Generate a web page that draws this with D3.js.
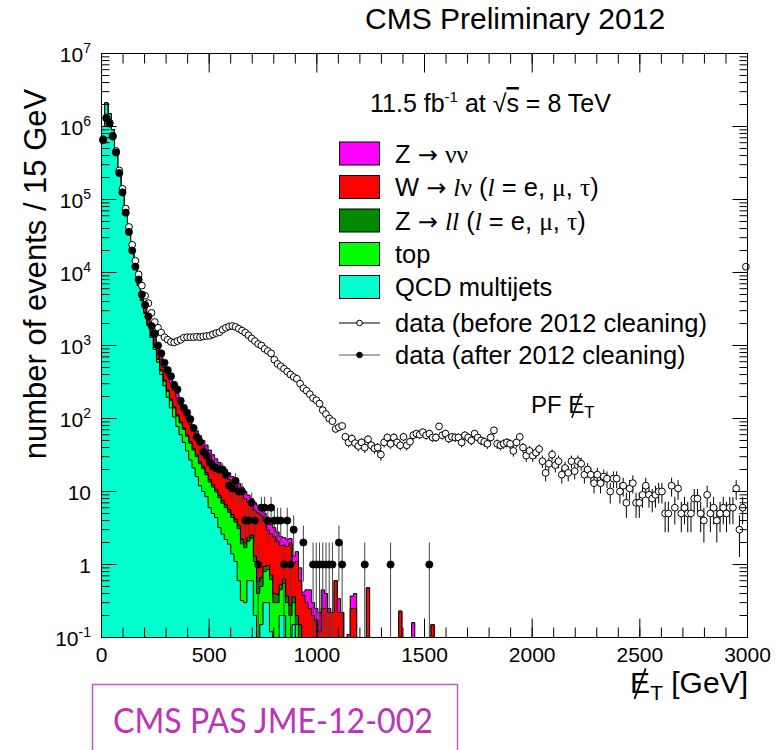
<!DOCTYPE html>
<html>
<head>
<meta charset="utf-8">
<script src="https://cdn.jsdelivr.net/npm/d3@7"></script>
<style>
body{margin:0;background:#fff}
svg{display:block}
text{white-space:pre}
</style>
</head>
<body>
<svg id="c" width="777" height="750"></svg>
<script>
// ---------------- DATA ----------------
const binWidth = 15; // GeV per bin
const xTickValues = [0, 500, 1000, 1500, 2000, 2500, 3000];
const yTickExponents = [-1, 0, 1, 2, 3, 4, 5, 6, 7];

// stacked MC backgrounds, events per 15 GeV bin (bin i = [15i, 15i+15) GeV)
const qcd = [
  1.0e6, 2.1e6, 1.5e6, 9.0e5, 5.0e5, 2.6e5, 1.33e5, 6.9e4, 3.6e4, 1.9e4,
  1.1e4, 6.6e3, 4.1e3, 2.75e3, 1.88e3, 1.29e3, 880, 590, 400, 280,
  195, 140, 105, 78, 60, 47, 36, 27, 21, 16,
  12, 10, 8.5, 6, 5, 4.4, 3.2, 2.6, 2.2, 1.9,
  1.4, 1.1, 0.6, 0.32, 0.3, 0.6, 0.6, 0.2, 0, 0.15,
  0.3, 0.3, 0.12, 0, 0, 0.2, 0.2, 0, 0, 0.15
];
const topBkg = [
  20, 60, 90, 110, 120, 120, 115, 110, 100, 95,
  90, 85, 80, 75, 70, 65, 60, 55, 50, 46,
  42, 38, 34, 30, 27, 24, 21, 19, 16, 14,
  12, 10.5, 8.5, 7.5, 6.5, 5.5, 5, 4.3, 3.8, 3.3,
  3, 2.7, 2.5, 1.6, 1.4, 1.5, 1.7, 0.9, 0.4, 0.35,
  0.5, 0.55, 0.5, 0.3, 0.3, 0.25, 0.35, 0.3, 0.2, 0.15,
  0.15, 0.1
];
const zll = [
  30, 100, 150, 180, 170, 150, 130, 110, 90, 75,
  60, 48, 38, 30, 24, 19, 15, 12, 10, 8,
  7, 6, 5, 4, 3.5, 3, 2.6, 2.2, 2, 1.7,
  1.5, 1.3, 1.2, 1, 0.9, 0.8, 0.7, 0.6, 0.55, 0.5,
  0.45, 0.4, 0.35, 0.3, 0.28, 0.25, 0.22, 0.2, 0.18, 0.16,
  0.14, 0.12, 0.1, 0.1, 0.09, 0.08, 0.08, 0.07, 0.07, 0.06,
  0.05, 0.05, 0.04, 0.04, 0.03, 0.03, 0.03
];
const wlnu = [
  500, 1500, 2200, 2600, 2600, 2400, 2100, 1800, 1500, 1200,
  950, 740, 580, 450, 360, 290, 240, 205, 190, 165,
  145, 125, 100, 80, 62, 52, 42, 35, 30, 26,
  23.5, 20, 18, 16.5, 14, 12.3, 11.6, 10.5, 9.8, 9,
  8.2, 8, 7, 7, 6, 4.8, 3.9, 4.2, 4.5, 4,
  3, 2, 1.9, 2, 1.7, 1.3, 1.2, 1.4, 1.7, 0.7,
  0.9, 0.45, 0.34, 0.26, 0.22, 0.17, 0.14, 0.12, 0.25, 0.25,
  0.22, 0.22, 0.6, 0.22, 0.22, 0, 0, 0.25, 0.25, 0,
  0, 0, 0.48, 0, 0, 0, 0, 0, 0, 0,
  0, 0, 0.23, 0, 0, 0, 0, 0, 0, 0,
  0, 0, 0.15
];
const znn = [
  200, 600, 900, 1100, 1100, 1000, 900, 800, 650, 520,
  420, 330, 260, 200, 160, 130, 100, 85, 70, 60,
  50, 42, 35, 28, 23, 19, 16, 13, 11, 10,
  9, 8, 7, 6, 5.5, 5, 4.5, 4, 3.6, 3.3,
  3, 2.8, 2.5, 2.3, 2, 1.8, 1.6, 1.5, 1.4, 1.3,
  1.1, 1, 0.9, 0.8, 0.7, 0.6, 0.5, 0.45, 0.3, 0.25,
  0.4, 0.3, 0.04, 0.15, 0.2, 0.1, 0.08, 0.1, 0.2, 0.15,
  0.03, 0, 0, 0.12, 0, 0, 0.11, 0.12, 0.15, 0,
  0, 0, 0, 0, 0, 0, 0, 0, 0, 0,
  0, 0, 0, 0, 0, 0, 0.16
];

// data before 2012 cleaning (open circles), 200 bins
const dataBefore = [
  6.7e5, 1.33e6, 1.13e6, 7.5e5, 4.6e5, 2.5e5, 1.4e5, 7.5e4, 4.2e4, 2.4e4,
  1.45e4, 9.4e3, 6.6e3, 4.8e3, 3.8e3, 2.8e3, 2.1e3, 1.75e3, 1.5e3, 1.3e3,
  1.2e3, 1.12e3, 1.1e3, 1.15e3, 1.2e3, 1.28e3, 1.3e3, 1.3e3, 1.3e3, 1.32e3,
  1.3e3, 1.33e3, 1.35e3, 1.36e3, 1.42e3, 1.48e3, 1.52e3, 1.65e3, 1.75e3, 1.82e3,
  1.85e3, 1.8e3, 1.7e3, 1.6e3, 1.5e3, 1.38e3, 1.25e3, 1.15e3, 1.05e3, 1.0e3,
  900, 840, 780, 640, 560, 520, 480, 440, 400, 370,
  350, 300, 260, 240, 215, 190, 178, 160, 130, 115,
  100, 92, 72, 76, 79, 56, 47, 53, 46, 42,
  47, 40, 52, 43, 39, 40, 32, 47, 55, 45,
  55, 47, 43, 56, 43, 48, 59, 62, 60, 65,
  59, 62, 55, 55, 78, 59, 62, 53, 56, 55,
  55, 47, 59, 55, 50, 62, 55, 50, 48, 45,
  55, 69, 45, 43, 45, 47, 45, 36, 47, 56,
  40, 31, 36, 31, 34, 38, 26, 18, 24, 32,
  23, 26, 17, 21, 18, 26, 19, 26, 24, 17,
  20, 17, 13, 17, 13, 16, 15, 10, 15, 15,
  10, 12, 7, 11, 13, 7, 7, 9, 12, 9,
  8, 9, 10, 10, 5, 5, 12, 6, 11, 5,
  6, 5, 5, 8, 8, 5, 4, 9, 5, 6,
  4, 5, 6, 5, 6, 6, 11, 3, 6, 12000
];

// data after 2012 cleaning (filled circles)
const dataAfter = [
  6.5e5, 1.3e6, 1.1e6, 7.3e5, 4.4e5, 2.3e5, 1.25e5, 6.6e4, 3.6e4, 2.0e4,
  1.2e4, 8.0e3, 5.0e3, 3.6e3, 2.5e3, 1.85e3, 1.45e3, 1.0e3, 780, 580,
  460, 380, 290, 250, 175, 140, 120, 98, 74, 56,
  48, 35, 31, 25, 22, 21, 20, 20, 17, 12,
  11, 14, 10, 10, 4, 4, 7, 4, 1, 6,
  6, 4, 6, 4, 4, 4, 1, 4, 1, 3,
  0, 0, 2, 0, 0, 1, 1, 1, 1, 1,
  1, 1, 0, 2, 1, 0, 0, 0, 0, 0,
  0, 1, 0, 0, 0, 0, 0, 0, 0, 1,
  0, 0, 0, 0, 0, 0, 0, 0, 0, 0,
  0, 1
];

// legend entries (rich text segments: [text, font(1 serif, 2 symbol), italic?])
const legendEntries = [
  [["Z "], ["→", 2], [" "], ["νν", 1]],
  [["W "], ["→", 2], [" "], ["l", 1, 1], ["ν", 1], [" ("], ["l", 1, 1], [" = e, "], ["μ", 1], [", "], ["τ", 1], [")"]],
  [["Z "], ["→", 2], [" "], ["ll", 1, 1], [" ("], ["l", 1, 1], [" = e, "], ["μ", 1], [", "], ["τ", 1], [")"]],
  [["top"]],
  [["QCD multijets"]],
  [["data (before 2012 cleaning)"]],
  [["data (after 2012 cleaning)"]]
];

// ---------------- STYLE ----------------
const stackKeys = ["qcd", "top", "zll", "wlnu", "znn"];
const stackArrays = [qcd, topBkg, zll, wlnu, znn];
const stackColors = ["#00ffcc", "#00ff00", "#008a00", "#ff0000", "#ff00ff"];
const SANS = "'Liberation Sans', Arial, Helvetica, sans-serif";
const SERIF = "'Liberation Serif', 'Times New Roman', serif";
const SYMB = "'DejaVu Sans', sans-serif";

// ---------------- DRAW ----------------
const svg = d3.select("#c");
const F = {l: 101.5, r: 747.5, t: 53.5, b: 637.5};
const nBins = dataBefore.length;
const x = d3.scaleLinear().domain([0, nBins * binWidth]).range([F.l, F.r]);
const y = d3.scaleLog().domain([0.1, 1e7]).range([F.b, F.t]).clamp(true);
const yv = v => y(Math.max(v, 1e-6));
const xc = i => x((i + 0.5) * binWidth);

svg.append("rect").attr("width", 777).attr("height", 750).attr("fill", "#fff");
svg.append("defs").append("clipPath").attr("id", "clip")
  .append("rect").attr("x", F.l).attr("y", F.t).attr("width", F.r - F.l).attr("height", F.b - F.t);

// stacked table
const table = d3.range(nBins).map(i => {
  const o = {bin: i};
  stackKeys.forEach((k, j) => { const a = stackArrays[j]; o[k] = i < a.length ? a[i] : 0; });
  return o;
});
const stacked = d3.stack().keys(stackKeys)(table);

function stepPath(tops) {
  const pts = [[x(0), F.b]];
  tops.forEach((v, i) => {
    const yy = yv(v);
    pts.push([x(i * binWidth), yy]);
    pts.push([x((i + 1) * binWidth), yy]);
  });
  pts.push([x(nBins * binWidth), F.b]);
  return d3.line()(pts) + "Z";
}

const gH = svg.append("g").attr("clip-path", "url(#clip)");
for (let k = stacked.length - 1; k >= 0; k--) {
  const tops = stacked[k].map(d => d[1]);
  gH.append("path").attr("d", stepPath(tops))
    .attr("fill", stackColors[k]).attr("stroke", "#000").attr("stroke-width", 1);
}

// data points
function drawData(arr, filled) {
  const pts = arr.map((v, i) => ({i, v})).filter(d => d.v > 0);
  const g = svg.append("g");
  g.selectAll("line").data(pts).join("line")
    .attr("x1", d => xc(d.i)).attr("x2", d => xc(d.i))
    .attr("y1", d => yv(d.v + Math.sqrt(d.v)))
    .attr("y2", d => yv(d.v - Math.sqrt(d.v)))
    .attr("stroke", filled ? "#444" : "#000").attr("stroke-width", 1);
  g.selectAll("circle").data(pts).join("circle")
    .attr("cx", d => xc(d.i)).attr("cy", d => yv(d.v))
    .attr("r", filled ? 3.6 : 3.4)
    .attr("fill", filled ? "#000" : "#fff")
    .attr("stroke", "#000").attr("stroke-width", filled ? 0.8 : 1);
}
drawData(dataBefore, false);
drawData(dataAfter, true);

// axes (ticks inside, on all four sides)
const xMinor = d3.range(0, nBins * binWidth + 1, 100);
const yMajor = yTickExponents.map(e => Math.pow(10, e));
const yMinor = [];
yTickExponents.slice(0, -1).forEach(e => { for (let m = 2; m <= 9; m++) yMinor.push(m * Math.pow(10, e)); });

function axisG(axis, tr) {
  svg.append("g").attr("transform", tr).call(axis.offset(0))
    .call(g => g.select(".domain").remove())
    .call(g => g.selectAll("line").attr("stroke", "#000"));
}
axisG(d3.axisBottom(x).tickValues(xMinor).tickSize(-10).tickFormat(""), `translate(0,${F.b})`);
axisG(d3.axisBottom(x).tickValues(xTickValues).tickSize(-19).tickFormat(""), `translate(0,${F.b})`);
axisG(d3.axisTop(x).tickValues(xMinor).tickSize(-10).tickFormat(""), `translate(0,${F.t})`);
axisG(d3.axisTop(x).tickValues(xTickValues).tickSize(-19).tickFormat(""), `translate(0,${F.t})`);
axisG(d3.axisLeft(y).tickValues(yMinor).tickSize(-8).tickFormat(""), `translate(${F.l},0)`);
axisG(d3.axisLeft(y).tickValues(yMajor).tickSize(-15).tickFormat(""), `translate(${F.l},0)`);
axisG(d3.axisRight(y).tickValues(yMinor).tickSize(-8).tickFormat(""), `translate(${F.r},0)`);
axisG(d3.axisRight(y).tickValues(yMajor).tickSize(-15).tickFormat(""), `translate(${F.r},0)`);

svg.append("rect").attr("x", F.l).attr("y", F.t).attr("width", F.r - F.l).attr("height", F.b - F.t)
  .attr("fill", "none").attr("stroke", "#000").attr("stroke-width", 1);

// tick labels
svg.append("g").selectAll("text").data(xTickValues).join("text")
  .attr("x", d => x(d)).attr("y", F.b + 24).attr("text-anchor", "middle")
  .attr("font-family", SANS).attr("font-size", 21).text(d => d);

const yl = svg.append("g").attr("font-family", SANS).attr("font-size", 21);
yTickExponents.forEach(e => {
  const t = yl.append("text").attr("x", 91).attr("y", y(Math.pow(10, e)) + 8).attr("text-anchor", "end");
  if (e === 0) t.text("1");
  else if (e === 1) t.text("10");
  else {
    t.append("tspan").text("10");
    t.append("tspan").attr("font-size", 14).attr("dy", -9).text(e);
  }
});

// axis titles
svg.append("text").attr("transform", "translate(46,274) rotate(-90)")
  .attr("text-anchor", "middle").attr("font-family", SANS).attr("font-size", 31)
  .text("number of events / 15 GeV");

function metLabel(prefix, size, tx, ty, anchorRight, suffix) {
  const g = svg.append("g").attr("font-family", SANS).attr("font-size", size);
  let cx = 0;
  if (prefix) {
    const p = g.append("text").attr("x", 0).attr("y", 0).text(prefix);
    cx = p.node().getComputedTextLength();
  }
  const e = g.append("text").attr("x", cx).attr("y", 0).text("E");
  const wE = e.node().getComputedTextLength();
  g.append("line")
    .attr("x1", cx + wE * 0.22).attr("y1", size * 0.2)
    .attr("x2", cx + wE * 0.78).attr("y2", -size * 0.82)
    .attr("stroke", "#000").attr("stroke-width", size / 16);
  const t = g.append("text").attr("x", cx + wE).attr("y", size * 0.22).attr("font-size", size * 0.7).text("T");
  let w = cx + wE + t.node().getComputedTextLength();
  if (suffix) {
    const s = g.append("text").attr("x", w).attr("y", 0).text(suffix);
    w += s.node().getComputedTextLength();
  }
  g.attr("transform", `translate(${anchorRight ? tx - w : tx},${ty})`);
}
metLabel(null, 30, 748, 693, true, " [GeV]");
metLabel("PF ", 24, 531, 413, false, null);

// header texts
svg.append("text").attr("x", 365).attr("y", 29).attr("font-family", SANS).attr("font-size", 30)
  .text("CMS Preliminary 2012");

const lumi = svg.append("text").attr("x", 370).attr("y", 112).attr("font-family", SANS).attr("font-size", 25);
lumi.append("tspan").text("11.5 fb");
lumi.append("tspan").attr("font-size", 15).attr("dy", -10).text("-1");
lumi.append("tspan").attr("dy", 10).text(" at √");
lumi.append("tspan").style("text-decoration", "overline").text("s");
lumi.append("tspan").text(" = 8 TeV");

// legend
const legRowY = [153.5, 187, 220.5, 254, 287, 323, 355];
const leg = svg.append("g");
legRowY.forEach((cy, r) => {
  if (r < 5) {
    const k = 4 - r;
    leg.append("rect").attr("x", 339.5).attr("y", cy - 11.5).attr("width", 40).attr("height", 23)
      .attr("fill", stackColors[k]).attr("stroke", "#000").attr("stroke-width", 1);
  } else {
    const filled = r === 6;
    leg.append("line").attr("x1", 339).attr("x2", 380).attr("y1", cy).attr("y2", cy)
      .attr("stroke", filled ? "#555" : "#000").attr("stroke-width", 1.2);
    leg.append("circle").attr("cx", 359.5).attr("cy", cy).attr("r", 2.8)
      .attr("fill", filled ? "#000" : "#fff").attr("stroke", "#000").attr("stroke-width", 1);
  }
  const t = leg.append("text").attr("x", 395).attr("y", cy + 9).attr("font-size", 25.5).attr("font-family", SANS);
  legendEntries[r].forEach(s => {
    const ts = t.append("tspan").text(s[0]);
    if (s[1] === 1) ts.attr("font-family", SERIF);
    if (s[1] === 2) ts.attr("font-family", SYMB).attr("font-size", 24);
    if (s[2]) ts.attr("font-style", "italic");
  });
});

// PAS box
svg.append("rect").attr("x", 92.5).attr("y", 684.5).attr("width", 365).attr("height", 90)
  .attr("fill", "none").attr("stroke", "#c458c4").attr("stroke-width", 1.5);
svg.append("text").attr("x", 113).attr("y", 733).attr("font-family", "Lato, 'Open Sans', sans-serif")
  .attr("font-size", 34).attr("fill", "#b935b9")
  .attr("textLength", 320).attr("lengthAdjust", "spacingAndGlyphs")
  .text("CMS PAS JME-12-002");
</script>
</body>
</html>
